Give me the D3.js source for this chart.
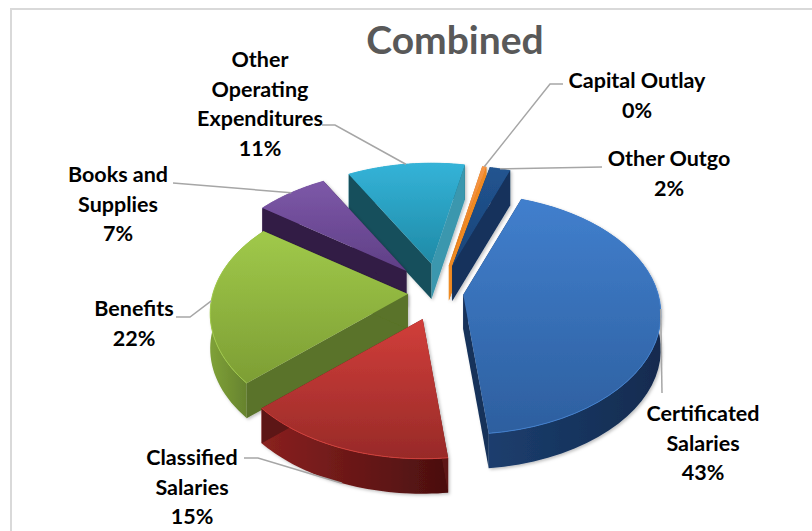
<!DOCTYPE html>
<html>
<head>
<meta charset="utf-8">
<script src="https://cdn.jsdelivr.net/npm/d3@7"></script>
<style>
  html, body { margin: 0; padding: 0; background: #fff; overflow: hidden; }
  svg { display: block; }
  text { font-family: Lato, "Open Sans", sans-serif; font-weight: 700; }
</style>
</head>
<body>
<svg id="chart"></svg>
<script>
const categories = ["Certificated Salaries", "Classified Salaries", "Benefits", "Books and Supplies", "Other Operating Expenditures", "Capital Outlay", "Other Outgo"];
const shares = [43, 15, 22, 7, 11.3, 0.4, 2];
const labelLines = [
  ["Certificated", "Salaries", "43%"],
  ["Classified", "Salaries", "15%"],
  ["Benefits", "22%"],
  ["Books and", "Supplies", "7%"],
  ["Other", "Operating", "Expenditures", "11%"],
  ["Capital Outlay", "0%"],
  ["Other Outgo", "2%"]
];

const width = 812;
const height = 531;

// top colours, bottom colours, near wall, far wall
const topLight = ["#417fcd", "#d13e3a", "#a0c94a", "#7d58a8", "#34b3d8", "#f79646", "#215490"];
const topDark = ["#2d5f9f", "#982a28", "#7d9e34", "#5f3f86", "#1f8aa6", "#e67e1c", "#1b4478"];
const rimLight = ["#1c3e6e", "#8a2120", "#7fa138", "#3a2050", "#2a8aa3", "#e07a1a", "#17396a"];
const rimDark = ["#122b4f", "#4a0f0f", "#5b7529", "#2b173c", "#17606f", "#b9630f", "#0f2a50"];
const wallColor = ["#15315a", "#5d1514", "#5a7329", "#321a44", "#14505c", "#c96e12", "#12315c"];
const wallRight = ["#15315a", "#5d1514", "#5a7329", "#321a44", "#3a97ae", "#f08a20", "#12315c"];

// how far each slice is pulled out of the pie
const explodeBy = [0.125, 0.23, 0.16, 0.26, 0.262, 0.25, 0.25];

// back slices first so the nearer ones cover them
const drawOrder = [4, 5, 6, 3, 2, 1, 0];

// where each label sits and which way its leader leaves it
const labelAt = [
  { x: 703, y: 421, from: [662, 393] },
  { x: 192, y: 465, from: [244, 458], knee: [258, 458] },
  { x: 134, y: 316, from: [176, 317], knee: [190, 317] },
  { x: 118, y: 182, from: [173, 183] },
  { x: 260, y: 67, from: [322, 125], knee: [335, 125] },
  { x: 637, y: 88, from: [563, 84], knee: [550, 84] },
  { x: 669, y: 166, from: [602, 167] }
];

const cx = 439, cy = 293;
const radius = 195;
const tilt = 117;
const persp = 0.162;
const depth = 35;

const svg = d3.select("#chart").attr("width", width).attr("height", height);
const defs = svg.append("defs");

// soft edge seen in the reference
defs.append("filter").attr("id", "soft")
  .attr("x", "-10%").attr("y", "-10%").attr("width", "120%").attr("height", "120%")
  .append("feDropShadow")
  .attr("dx", 1.5).attr("dy", 1.5).attr("stdDeviation", 1.5)
  .attr("flood-color", "#000").attr("flood-opacity", 0.25);

// only the top and left frame lines fall inside the picture
svg.append("rect")
  .attr("x", 11).attr("y", 9)
  .attr("width", 820).attr("height", 540)
  .attr("fill", "#fff").attr("stroke", "#d9d9d9").attr("stroke-width", 2);

svg.append("text")
  .attr("x", 455).attr("y", 54)
  .attr("text-anchor", "middle")
  .attr("font-size", 39)
  .attr("fill", "#595959")
  .text("Combined");

const pie = d3.pie().sort(null).startAngle(20 * Math.PI / 180).endAngle(380 * Math.PI / 180);
const arcs = pie(shares);

// maps a point of the flat disc (radius 1) to the page, nearer points get larger
function project(u, v) {
  const s = 1 / (1 - persp * v);
  return [u * radius * s, v * tilt * s];
}

const slices = arcs.map((a, i) => {
  const mid = (a.startAngle + a.endAngle) / 2;
  const off = project(explodeBy[i] * Math.sin(mid), -explodeBy[i] * Math.cos(mid));
  const apex = [cx + off[0], cy + off[1]];
  const rimAt = t => {
    const p = project(Math.sin(t), -Math.cos(t));
    return [apex[0] + p[0], apex[1] + p[1]];
  };
  const rim = d3.range(0, 41).map(k => rimAt(a.startAngle + (a.endAngle - a.startAngle) * k / 40));
  return { i, mid, apex, rim, rimAt };
});

const line = d3.line().curve(d3.curveLinearClosed);
const down = p => [p[0], p[1] + depth];

function gradient(id, c1, c2, horizontal) {
  const g = defs.append("linearGradient").attr("id", id)
    .attr("x1", 0).attr("y1", 0)
    .attr("x2", horizontal ? 1 : 0).attr("y2", horizontal ? 0 : 1);
  g.append("stop").attr("offset", "0%").attr("stop-color", c1);
  g.append("stop").attr("offset", "100%").attr("stop-color", c2);
}

arcs.forEach((a, i) => {
  gradient("top" + i, topLight[i], topDark[i], false);
  gradient("rim" + i, rimLight[i], rimDark[i], true);
});

const sliceGroups = svg.append("g").selectAll("g")
  .data(drawOrder.map(i => slices[i]))
  .join("g")
  .attr("filter", "url(#soft)");

sliceGroups.each(function(d) {
  const g = d3.select(this);
  const first = d.rim[0];
  const last = d.rim[d.rim.length - 1];

  // curved side
  g.append("path")
    .attr("d", line(d.rim.concat(d.rim.map(down).reverse())))
    .attr("fill", `url(#rim${d.i})`);

  // cut faces
  g.append("path")
    .attr("d", line([d.apex, first, down(first), down(d.apex)]))
    .attr("fill", wallColor[d.i]);
  g.append("path")
    .attr("d", line([d.apex, last, down(last), down(d.apex)]))
    .attr("fill", wallRight[d.i]);

  // top face
  g.append("path")
    .attr("d", line([d.apex].concat(d.rim)))
    .attr("fill", `url(#top${d.i})`);

  // thin bevel along the outer edge
  g.append("path")
    .attr("d", d3.line()(d.rim))
    .attr("fill", "none")
    .attr("stroke", topLight[d.i])
    .attr("stroke-width", 1);
});

// labels and their leaders
const labels = svg.append("g");
const lineHeight = 29.5;
slices.forEach(d => {
  const at = labelAt[d.i];
  const end = d.rimAt(d.mid);
  const front = -Math.cos(d.mid) > 0.5;
  const pts = [at.from];
  if (at.knee) pts.push(at.knee);
  pts.push([end[0], end[1] + (front ? depth : 0)]);
  labels.append("path")
    .attr("d", d3.line()(pts))
    .attr("fill", "none")
    .attr("stroke", "#a6a6a6")
    .attr("stroke-width", 1.5);

  labelLines[d.i].forEach((t, k) => {
    labels.append("text")
      .attr("x", at.x)
      .attr("y", at.y + k * lineHeight)
      .attr("text-anchor", "middle")
      .attr("font-size", 21.5)
      .attr("fill", "#000")
      .text(t);
  });
});
</script>
</body>
</html>
